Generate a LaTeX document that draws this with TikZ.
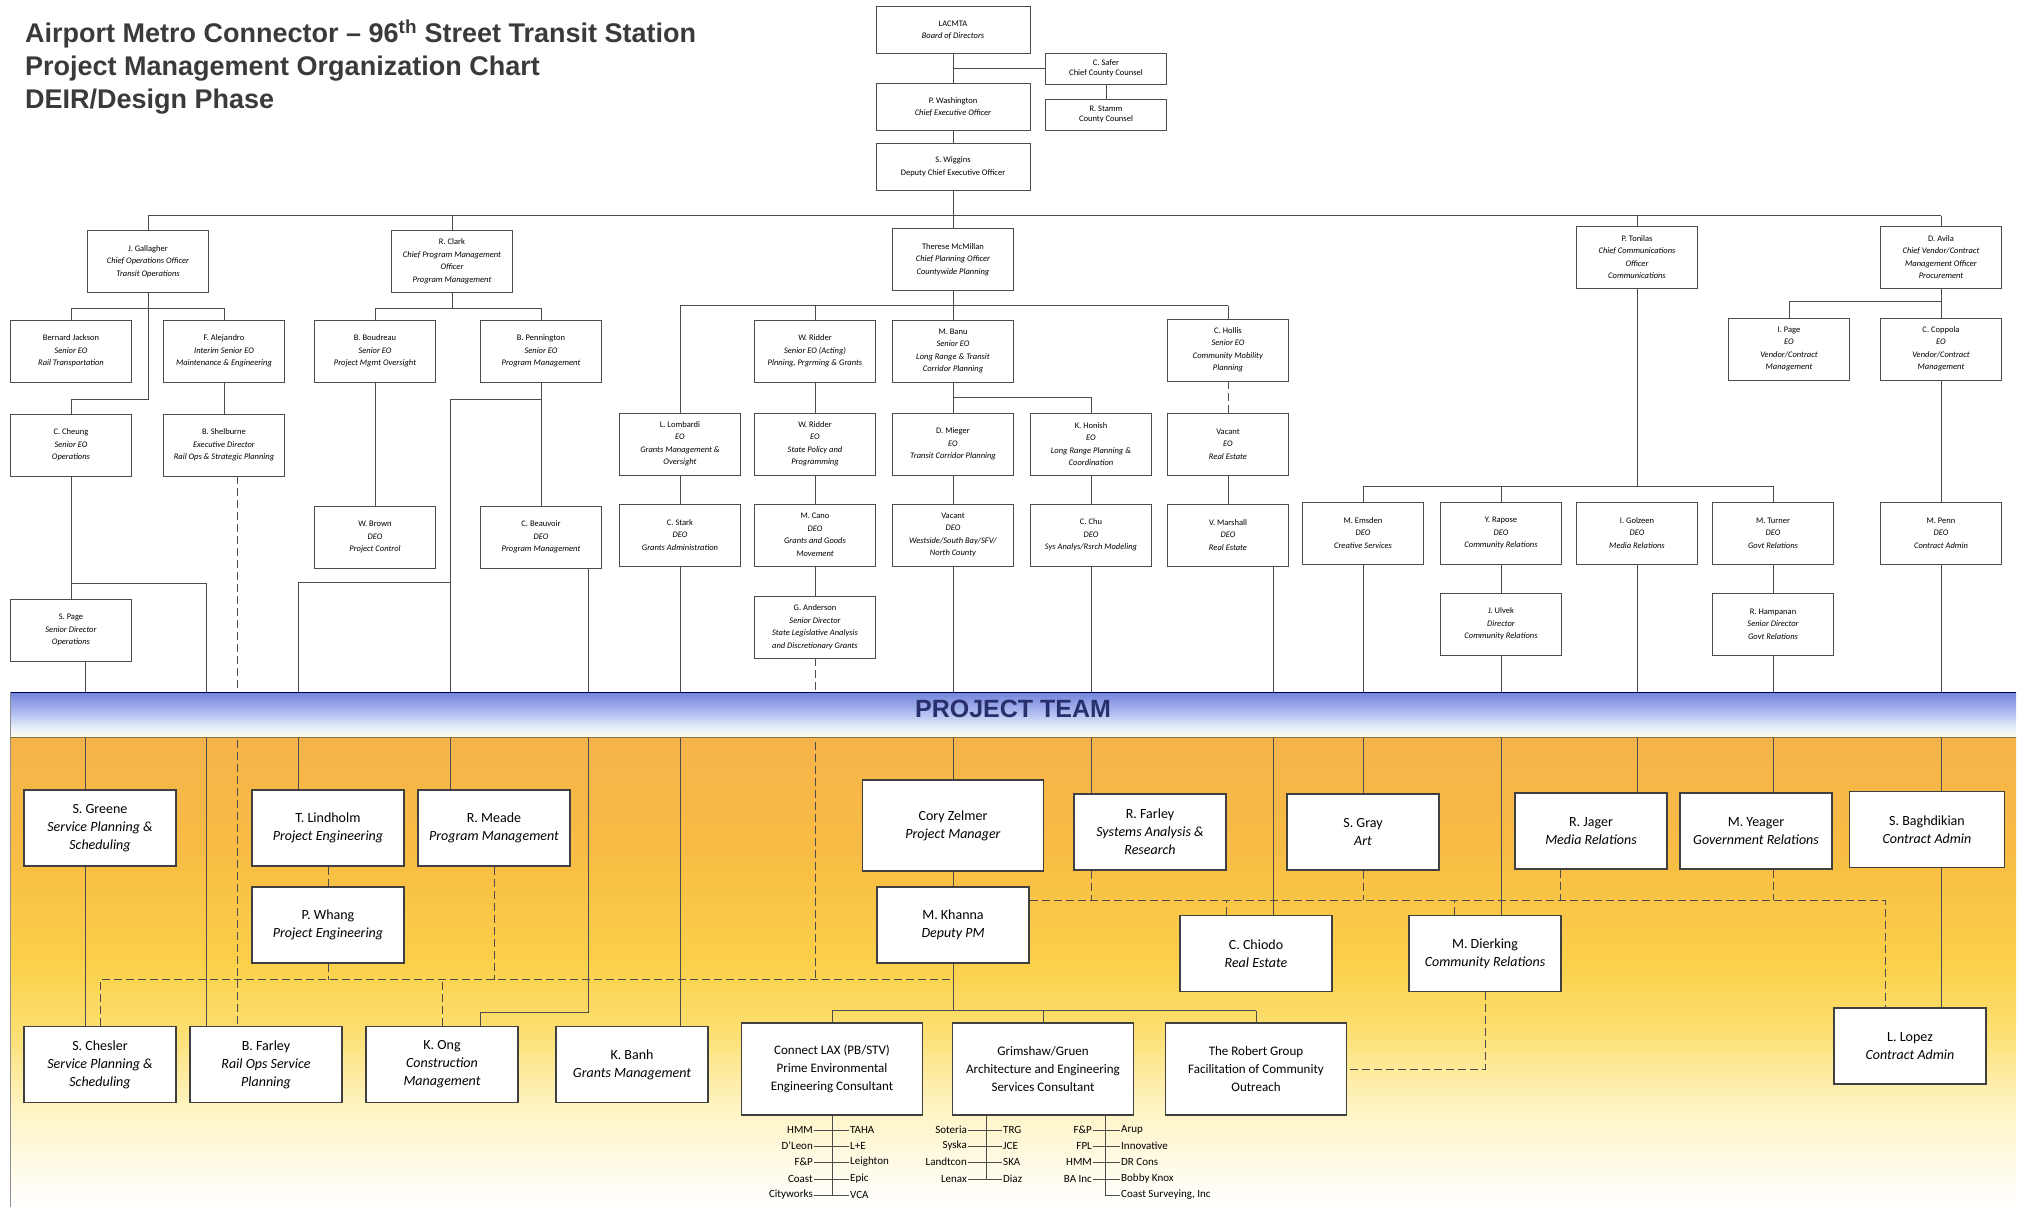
\documentclass[tikz,border=0pt]{standalone}
\usepackage{fontspec}
\setmainfont{Carlito}
\newfontfamily\headfont{Liberation Sans}
\usetikzlibrary{calc}
\definecolor{titlegray}{HTML}{3A3A3A}
\definecolor{teamnavy}{HTML}{28306C}
\definecolor{bandtop}{HTML}{F6B34A}
\definecolor{bandup}{HTML}{F8BC44}
\definecolor{bandmid}{HTML}{FBD04A}
\definecolor{bandlow}{HTML}{FCDF70}
\definecolor{bandpale}{HTML}{FEF4C4}
\definecolor{hdrtop}{HTML}{7282DA}
\definecolor{hdrmid}{HTML}{AAB8EF}
\definecolor{hdrlow}{HTML}{EAF0FA}
\definecolor{hdrbase}{HTML}{FFFDE8}
\pgfdeclareverticalshading{bandfade}{100bp}{color(0bp)=(white); color(25bp)=(white); color(35.6bp)=(bandpale); color(43.8bp)=(bandlow); color(51bp)=(bandmid); color(63bp)=(bandup); color(75bp)=(bandtop); color(100bp)=(bandtop)}
\pgfdeclareverticalshading{hdrfade}{100bp}{color(0bp)=(hdrbase); color(25bp)=(hdrbase); color(35bp)=(hdrlow); color(54bp)=(hdrmid); color(75bp)=(hdrtop); color(100bp)=(hdrtop)}
\tikzset{
   org node/.style={draw=black!70, fill=white, line width=0.8pt, minimum width=121pt, minimum height=62pt, inner sep=1pt, align=center, font=\fontsize{8.5}{12.5}\selectfont},
   top node/.style={org node, minimum width=154pt, minimum height=47pt},
   counsel node/.style={org node, minimum height=31pt, font=\fontsize{8.5}{10.5}\selectfont},
   team node/.style={draw=black!75, fill=white, line width=1.1pt, minimum width=152pt, minimum height=76pt, inner sep=2pt, align=center, font=\fontsize{14}{18}\selectfont},
   pm node/.style={team node, minimum width=181pt, minimum height=91pt},
   firm node/.style={team node, minimum width=181pt, minimum height=92pt, font=\fontsize{13}{18}\selectfont},
   sub node/.style={inner sep=1pt, font=\fontsize{11}{13}\selectfont},
   link/.style={draw=black!70, line width=1pt},
   dashlink/.style={link, dash pattern=on 8pt off 4pt}
}

\begin{document}
\begin{tikzpicture}[x=1pt,y=-1pt]
\useasboundingbox (0,0) rectangle (2018,1207);

\node[anchor=north west, align=left, text=titlegray, inner sep=0pt, font=\headfont\bfseries\fontsize{27}{33}\selectfont] (title) at (25,20) {Airport Metro Connector – 96\textsuperscript{th} Street Transit Station\\Project Management Organization Chart\\DEIR/Design Phase};

% project team band
\fill[shading=bandfade] (10,737) rectangle (2016,1207);
\draw[black!45] (10,692) -- (10,1207);

% board
\node[top node] (lacmta) at (953,30) {LACMTA\\\textit{Board of Directors}};
\node[top node] (washington) at (953,107) {P. Washington\\\textit{Chief Executive Officer}};
\node[top node] (wiggins) at (953,167) {S. Wiggins\\Deputy Chief Executive Officer};
\node[counsel node] (safer) at (1106,68.5) {C. Safer\\Chief County Counsel};
\node[counsel node] (stamm) at (1106,114.5) {R. Stamm\\County Counsel};

% chiefs
\node[org node] (gallagher) at (148,261.5) {J. Gallagher\\\textit{Chief Operations Officer}\\\textit{Transit Operations}};
\node[org node] (clark) at (452,261.5) {R. Clark\\\textit{Chief Program Management}\\\textit{Officer}\\\textit{Program Management}};
\node[org node] (mcmillan) at (953,259.5) {Therese McMillan\\\textit{Chief Planning Officer}\\\textit{Countywide Planning}};
\node[org node] (tonilas) at (1637,257) {P. Tonilas\\\textit{Chief Communications}\\\textit{Officer}\\\textit{Communications}};
\node[org node] (avila) at (1941,257) {D. Avila\\\textit{Chief Vendor/Contract}\\\textit{Management Officer}\\\textit{Procurement}};

% senior EO
\node[org node] (jackson) at (71,351) {Bernard Jackson\\\textit{Senior EO}\\\textit{Rail Transportation}};
\node[org node] (alejandro) at (224,351) {F. Alejandro\\\textit{Interim Senior EO}\\\textit{Maintenance \& Engineering}};
\node[org node] (boudreau) at (375,351) {B. Boudreau\\\textit{Senior EO}\\\textit{Project Mgmt Oversight}};
\node[org node] (pennington) at (541,351) {B. Pennington\\\textit{Senior EO}\\\textit{Program Management}};
\node[org node] (riddersr) at (815,351) {W. Ridder\\\textit{Senior EO (Acting)}\\\textit{Plnning, Prgrming \& Grants}};
\node[org node] (banu) at (953,351) {M. Banu\\\textit{Senior EO}\\\textit{Long Range \& Transit}\\\textit{Corridor Planning}};
\node[org node] (hollis) at (1228,350) {C. Hollis\\\textit{Senior EO}\\\textit{Community Mobility}\\\textit{Planning}};
\node[org node] (ipage) at (1789,349) {I. Page\\\textit{EO}\\\textit{Vendor/Contract}\\\textit{Management}};
\node[org node] (coppola) at (1941,349) {C. Coppola\\\textit{EO}\\\textit{Vendor/Contract}\\\textit{Management}};

% EO
\node[org node] (cheung) at (71,445) {C. Cheung\\\textit{Senior EO}\\\textit{Operations}};
\node[org node] (shelburne) at (224,445) {B. Shelburne\\\textit{Executive Director}\\\textit{Rail Ops \& Strategic Planning}};
\node[org node] (lombardi) at (680,444) {L. Lombardi\\\textit{EO}\\\textit{Grants Management \&}\\\textit{Oversight}};
\node[org node] (riddereo) at (815,444) {W. Ridder\\\textit{EO}\\\textit{State Policy and}\\\textit{Programming}};
\node[org node] (mieger) at (953,444) {D. Mieger\\\textit{EO}\\\textit{Transit Corridor Planning}};
\node[org node] (honish) at (1091,444) {K. Honish\\\textit{EO}\\\textit{Long Range Planning \&}\\\textit{Coordination}};
\node[org node] (vacanteo) at (1228,444) {Vacant\\\textit{EO}\\\textit{Real Estate}};

% DEO
\node[org node] (brown) at (375,537) {W. Brown\\\textit{DEO}\\\textit{Project Control}};
\node[org node] (beauvoir) at (541,537) {C. Beauvoir\\\textit{DEO}\\\textit{Program Management}};
\node[org node] (stark) at (680,535) {C. Stark\\\textit{DEO}\\\textit{Grants Administration}};
\node[org node] (cano) at (815,535) {M. Cano\\\textit{DEO}\\\textit{Grants and Goods}\\\textit{Movement}};
\node[org node] (vacantdeo) at (953,535) {Vacant\\\textit{DEO}\\\textit{Westside/South Bay/SFV/}\\\textit{North County}};
\node[org node] (chu) at (1091,535) {C. Chu\\\textit{DEO}\\\textit{Sys Analys/Rsrch Modeling}};
\node[org node] (marshall) at (1228,535) {V. Marshall\\\textit{DEO}\\\textit{Real Estate}};
\node[org node] (emsden) at (1363,533) {M. Emsden\\\textit{DEO}\\\textit{Creative Services}};
\node[org node] (rapose) at (1501,533) {Y. Rapose\\\textit{DEO}\\\textit{Community Relations}};
\node[org node] (golzeen) at (1637,533) {I. Golzeen\\\textit{DEO}\\\textit{Media Relations}};
\node[org node] (turner) at (1773,533) {M. Turner\\\textit{DEO}\\\textit{Govt Relations}};
\node[org node] (penn) at (1941,533) {M. Penn\\\textit{DEO}\\\textit{Contract Admin}};

% directors
\node[org node] (spage) at (71,630) {S. Page\\\textit{Senior Director}\\\textit{Operations}};
\node[org node] (anderson) at (815,627) {G. Anderson\\\textit{Senior Director}\\\textit{State Legislative Analysis}\\\textit{and Discretionary Grants}};
\node[org node] (ulvek) at (1501,624) {J. Ulvek\\\textit{Director}\\\textit{Community Relations}};
\node[org node] (hampanan) at (1773,624) {R. Hampanan\\\textit{Senior Director}\\\textit{Govt Relations}};

% project team
\node[team node] (greene) at (100,828) {S. Greene\\\textit{Service Planning \&}\\\textit{Scheduling}};
\node[team node] (lindholm) at (328,828) {T. Lindholm\\\textit{Project Engineering}};
\node[team node] (meade) at (494,828) {R. Meade\\\textit{Program Management}};
\node[pm node] (zelmer) at (953,825.5) {Cory Zelmer\\\textit{Project Manager}};
\node[team node] (rfarley) at (1150,832) {R. Farley\\\textit{Systems Analysis \&}\\\textit{Research}};
\node[team node] (gray) at (1363,832) {S. Gray\\\textit{Art}};
\node[team node] (jager) at (1591,831) {R. Jager\\\textit{Media Relations}};
\node[team node] (yeager) at (1756,831) {M. Yeager\\\textit{Government Relations}};
\node[team node, minimum width=155pt] (baghdikian) at (1927,829.5) {S. Baghdikian\\\textit{Contract Admin}};
\node[team node] (whang) at (328,925) {P. Whang\\\textit{Project Engineering}};
\node[team node] (khanna) at (953,925) {M. Khanna\\\textit{Deputy PM}};
\node[team node] (chiodo) at (1256,953.5) {C. Chiodo\\\textit{Real Estate}};
\node[team node] (dierking) at (1485,953.5) {M. Dierking\\\textit{Community Relations}};
\node[team node] (lopez) at (1910,1046) {L. Lopez\\\textit{Contract Admin}};
\node[team node] (chesler) at (100,1064.5) {S. Chesler\\\textit{Service Planning \&}\\\textit{Scheduling}};
\node[team node] (bfarley) at (266,1064.5) {B. Farley\\\textit{Rail Ops Service}\\\textit{Planning}};
\node[team node] (ong) at (442,1064.5) {K. Ong\\\textit{Construction}\\\textit{Management}};
\node[team node] (banh) at (632,1064.5) {K. Banh\\\textit{Grants Management}};
\node[firm node] (connectlax) at (832,1069) {Connect LAX (PB/STV)\\Prime Environmental\\Engineering Consultant};
\node[firm node] (grimshaw) at (1043,1069) {Grimshaw/Gruen\\Architecture and Engineering\\Services Consultant};
\node[firm node] (robert) at (1256,1069) {The Robert Group\\Facilitation of Community\\Outreach};

% board links
\draw[link] (lacmta) -- (washington);
\draw[link] (lacmta.south |- safer.west) -- (safer.west);
\draw[link] (safer) -- (stamm);
\draw[link] (washington) -- (wiggins);
\draw[link] (wiggins.south) -- ++(0,25) coordinate (hub);
\draw[link] (hub -| gallagher) -- (hub -| avila);
\foreach \n in {gallagher,clark,mcmillan,tonilas,avila}
  \draw[link] (\n.north) -- (\n.north |- hub);

% operations
\draw[link] (jackson.north) -- ++(0,-11) -| (alejandro.north);
\draw[link] (gallagher.south) -- ++(0,107) -| (cheung.north);
\draw[link] (alejandro) -- (shelburne);
\draw[link] (cheung) -- (spage);
\draw[link] (cheung.south) -- ++(0,107) -| ([xshift=-60pt]bfarley.north);
\draw[dashlink] ([xshift=13pt]shelburne.south) -- ([xshift=13pt]shelburne.south |- bfarley.north);
\draw[link] ([xshift=14pt]spage.south) -- ([xshift=14pt]spage.south |- greene.north);
\draw[link] ([xshift=-15pt]greene.south) -- ([xshift=-15pt]greene.south |- chesler.north);

% program management
\draw[link] (clark.south) -- ++(0,15);
\draw[link] (boudreau.north) -- ++(0,-11) -| (pennington.north);
\draw[link] (boudreau) -- (brown);
\draw[link] (pennington) -- (beauvoir);
\draw[link] (pennington.south) -- ++(0,17) -| ([xshift=-44pt]meade.north);
\draw[link] ([xshift=-44pt]meade.north) ++(0,-207) -| ([xshift=-30pt]lindholm.north);
\draw[link] ([xshift=47pt]beauvoir.south) -- ++(0,444) -| ([xshift=38pt]ong.north);

% planning
\draw[link] (mcmillan.south) -- ++(0,15) coordinate (planbus);
\draw[link] (planbus -| lombardi) -- (planbus -| hollis);
\foreach \n in {lombardi,riddersr,banu,hollis}
  \draw[link] (\n.north) -- (\n.north |- planbus);
\draw[link] (lombardi) -- (stark);
\draw[link] (stark.south) -- (stark.south |- banh.north);
\draw[link] (riddersr) -- (riddereo);
\draw[link] (riddereo) -- (cano);
\draw[link] (cano) -- (anderson);
\draw[link] (banu) -- (mieger);
\draw[link] (banu.south) -- ++(0,15) -| (honish.north);
\draw[link] (mieger) -- (vacantdeo);
\draw[link] (vacantdeo) -- (zelmer);
\draw[link] (zelmer) -- (khanna);
\draw[link] (honish) -- (chu);
\draw[link] (chu.south) -- (chu.south |- rfarley.north);
\draw[dashlink] (hollis) -- (vacanteo);
\draw[link] (vacanteo) -- (marshall);
\draw[link] ([xshift=45pt]marshall.south) -- ([xshift=45pt]marshall.south |- chiodo.north);

% communications
\draw[link] (tonilas.south) -- ([yshift=15pt]golzeen.north);
\draw[link] (emsden.north) -- ++(0,-15) -| (turner.north);
\draw[link] (rapose.north) -- ++(0,-15);
\draw[link] (rapose) -- (ulvek);
\draw[link] (turner) -- (hampanan);
\draw[link] (emsden.south) -- (emsden.south |- gray.north);
\draw[link] (ulvek.south) -- (ulvek.south |- dierking.north);
\draw[link] (golzeen.south) -- (golzeen.south |- jager.north);
\draw[link] (hampanan.south) -- (hampanan.south |- yeager.north);

% procurement
\draw[link] (avila.south) -- ++(0,13) -| (ipage.north);
\draw[link] (avila) -- (coppola);
\draw[link] (coppola) -- (penn);
\draw[link] (penn.south) -- (penn.south |- baghdikian.north);
\draw[link] (penn.south |- baghdikian.south) -- (penn.south |- lopez.north);

% team dotted lines
\draw[dashlink] (lindholm.south) -- (whang.north);
\draw[dashlink] (chesler.north) -- ++(0,-46) coordinate (dashrow) -- (dashrow -| khanna.south);
\draw[dashlink] (ong.north) -- (ong.north |- dashrow);
\draw[dashlink] (whang.south) -- (whang.south |- dashrow);
\draw[dashlink] (meade.south) -- (meade.south |- dashrow);
\draw[dashlink] (anderson.south) -- (anderson.south |- dashrow);
\draw[dashlink] ([yshift=25pt]khanna.east) coordinate (dashrow2) -| ([xshift=-25pt]lopez.north);
\draw[dashlink] (chu.south |- rfarley.south) -- (chu.south |- dashrow2);
\draw[dashlink] (gray.south) -- (gray.south |- dashrow2);
\draw[dashlink] ([xshift=-31pt]jager.south) -- ([xshift=-31pt]jager.south |- dashrow2);
\draw[dashlink] (hampanan.south |- yeager.south) -- (hampanan.south |- dashrow2);
\draw[dashlink] ([xshift=-30pt]chiodo.north) -- ([xshift=-30pt]chiodo.north |- dashrow2);
\draw[dashlink] ([xshift=-31pt]dierking.north) -- ([xshift=-31pt]dierking.north |- dashrow2);
\draw[dashlink] (dierking.south) |- (robert.east);

% consultants
\draw[link] (khanna.south) -- ++(0,47) coordinate (conbus);
\draw[link] (conbus -| connectlax) -- (conbus -| robert);
\foreach \n in {connectlax,grimshaw,robert}
  \draw[link] (\n.north) -- (\n.north |- conbus);

\foreach \l/\r/\y [count=\i] in {HMM/TAHA/1130, D'Leon/L+E/1146, F\&P/Leighton/1162, Coast/Epic/1179, Cityworks/VCA/1195} {
  \node[sub node, anchor=east] (la\i) at (814,\y) {\l};
  \node[sub node, anchor=west] (lb\i) at (849,\y) {\r};
  \draw[link, line width=0.8pt] (la\i) -- (lb\i);
}
\draw[link] (connectlax.south) -- (connectlax.south |- lb5.west);

\foreach \l/\r/\y [count=\i] in {Soteria/TRG/1130, Syska/JCE/1146, Landtcon/SKA/1162, Lenax/Diaz/1179} {
  \node[sub node, anchor=east] (ga\i) at (968,\y) {\l};
  \node[sub node, anchor=west] (gb\i) at (1002,\y) {\r};
  \draw[link, line width=0.8pt] (ga\i) -- (gb\i);
}
\draw[link] ([xshift=-57pt]grimshaw.south) -- ([xshift=-57pt]grimshaw.south |- gb4.west);

\foreach \l/\r/\y [count=\i] in {F\&P/Arup/1130, FPL/Innovative/1146, HMM/DR Cons/1162, BA Inc/Bobby Knox/1179} {
  \node[sub node, anchor=east] (ra\i) at (1093,\y) {\l};
  \node[sub node, anchor=west] (rb\i) at (1120,\y) {\r};
  \draw[link, line width=0.8pt] (ra\i) -- (rb\i);
}
\node[sub node, anchor=west] (rb5) at (1120,1195) {Coast Surveying, Inc};
\draw[link] ([xshift=62pt]grimshaw.south) |- (rb5.west);

% header strip on top of the links
\path[shading=hdrfade] (10,692) rectangle (2016,737);
\draw[black!50!blue!60!black, line width=1pt] (10,692) -- (2016,692);
\draw[black!60!yellow, line width=1pt] (10,737) -- (2016,737);
\draw[black!45] (10,692) -- (10,737);
\node[font=\headfont\bfseries\fontsize{25}{25}\selectfont, text=teamnavy] (teamlabel) at (1013,709) {PROJECT TEAM};
\end{tikzpicture}
\end{document}
